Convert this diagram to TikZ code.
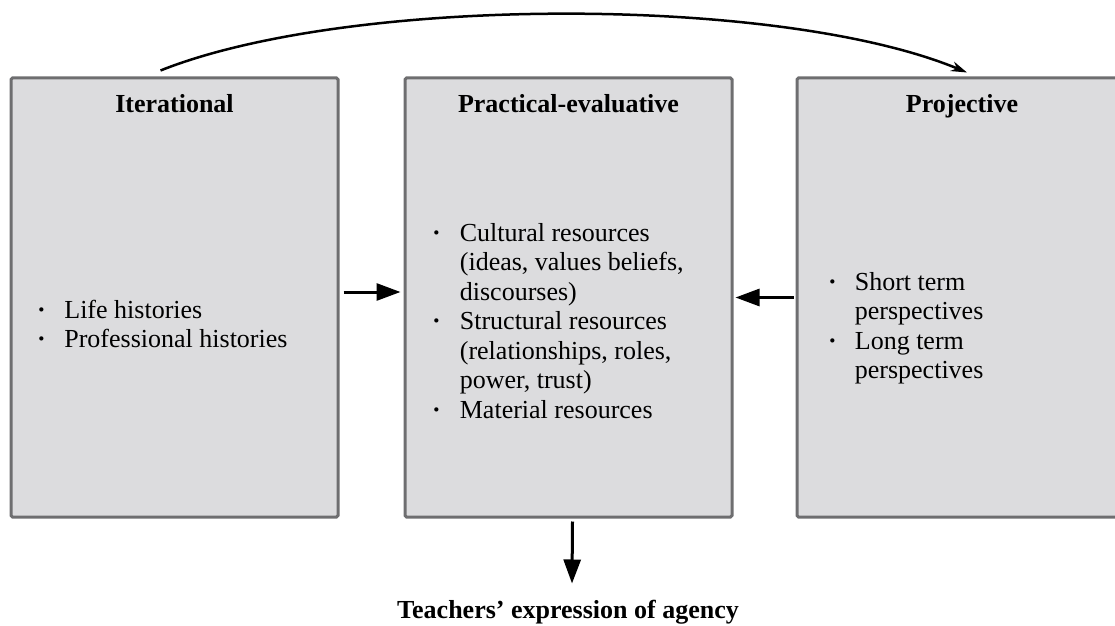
\documentclass[tikz,border=0pt]{standalone}
\usepackage{fontspec}
\setmainfont{Liberation Serif}
\usetikzlibrary{arrows.meta,calc}
\definecolor{boxfill}{RGB}{220,220,222}
\definecolor{boxline}{RGB}{110,110,112}
\newcommand{\dotmark}{\textbf{\textperiodcentered}}

\begin{document}
\begin{tikzpicture}[x=1pt,y=1pt,
  stage/.style={draw=boxline,fill=boxfill,line width=3pt,rounded corners=1.5pt,
    minimum width=327pt,minimum height=439pt,inner sep=0pt},
  heading/.style={anchor=base,inner sep=0pt,font=\fontsize{26}{29.5}\selectfont\bfseries},
  items/.style={anchor=base west,inner sep=0pt,font=\fontsize{26}{29.5}\selectfont},
  flow/.style={line width=3pt,-{Triangle[length=24pt,width=17pt]}}]

\useasboundingbox (0,0) rectangle (1115,625);

% ---------------- the three boxes ----------------
\node[stage] (iter) at (174.5,327.5) {};
\node[stage] (pract) at (568.5,327.5) {};
\node[stage,minimum width=330pt] (proj) at (962,327.5) {};

\node[heading] (iterhead) at ($(iter.north)+(0,-36)$) {Iterational};
\node[heading] (practhead) at ($(pract.north)+(0,-36)$) {Practical-evaluative};
\node[heading] (projhead) at ($(proj.north)+(0,-36)$) {Projective};

% ---------------- bullet lists ----------------
\node[items] (iterlist) at (37,307) {\begin{tabular}[t]{@{}l@{\hspace{18.5pt}}l@{}}
  \dotmark & Life histories\\
  \dotmark & Professional histories
\end{tabular}};

\node[items] (practlist) at (432,384) {\begin{tabular}[t]{@{}l@{\hspace{19pt}}l@{}}
  \dotmark & Cultural resources\\
           & (ideas, values beliefs,\\
           & discourses)\\
  \dotmark & Structural resources\\
           & (relationships, roles,\\
           & power, trust)\\
  \dotmark & Material resources
\end{tabular}};

\node[items] (projlist) at (828,335) {\begin{tabular}[t]{@{}l@{\hspace{18pt}}l@{}}
  \dotmark & Short term\\
           & perspectives\\
  \dotmark & Long term\\
           & perspectives
\end{tabular}};

% ---------------- outcome ----------------
\node[heading] (agency) at (568,7) {Teachers' expression of agency};

% ---------------- arrows ----------------
\draw[flow] ([xshift=4pt,yshift=5.5pt]iter.east) -- ([xshift=-3pt,yshift=5.5pt]pract.west);
\draw[flow] ([xshift=-2pt]proj.west) -- ([xshift=2pt]pract.east);
\draw[flow] ([xshift=4pt,yshift=-3pt]pract.south) -- ([xshift=4pt,yshift=16pt]agency.north);

\draw[line width=2.5pt,-{Stealth[length=16pt,width=10pt]}]
  ([xshift=-14pt,yshift=6pt]iter.north) .. controls (350,630) and (780,630) ..
  ([xshift=5pt,yshift=4pt]proj.north);

\end{tikzpicture}
\end{document}
